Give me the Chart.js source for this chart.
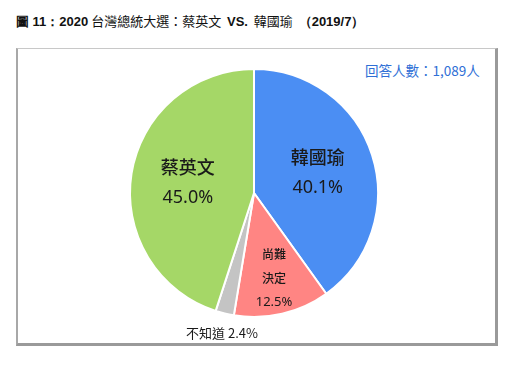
<!DOCTYPE html>
<html>
<head>
<meta charset="utf-8">
<script src="https://cdn.jsdelivr.net/npm/chart.js@4"></script>
<style>
  body { margin: 0; background: #fff; font-family: "Noto Sans CJK TC", sans-serif; }
  #wrap { position: relative; width: 513px; height: 368px; overflow: hidden; }
  #title { position: absolute; left: 16px; top: 11px; font-size: 13px; color: #111; white-space: nowrap; }
  #title b { font-family: Arial, "Liberation Sans", sans-serif; }
  #frame { position: absolute; left: 16px; top: 48px; width: 477px; height: 294px;
           border-top: 1px solid #c8c8c8; border-left: 2px solid #a8a8a8;
           border-right: 3px solid #9a9a9a; border-bottom: 3px solid #9a9a9a; }
  #note { position: absolute; left: 365px; top: 60px; font-size: 13.5px; color: #2f6fd6; white-space: nowrap; }
  #chart { position: absolute; left: 0; top: 0; }
</style>
</head>
<body>
<div id="wrap">
  <div id="title"><b>圖 11：2020</b> 台灣總統大選：蔡英文&nbsp; <b>VS.</b>&nbsp; 韓國瑜&nbsp; <b>（2019/7）</b></div>
  <div id="frame"></div>
  <div id="note">回答人數：1,089人</div>
  <canvas id="chart" width="513" height="368"></canvas>
</div>
<script>
/*----- data -----*/
const labels = ["韓國瑜", "尚難決定", "不知道", "蔡英文"]
const values = [40.1, 12.5, 2.4, 45.0]
const colors = ["#4b8ef3", "#ff8583", "#c4c4c4", "#a5d767"]
const edgeColors = ["#3a78dc", "#f06a68", "#a8a8a8", "#93c855"]

/*----- shading -----*/
function shade(context) {
  const chart = context.chart
  const arc = chart.getDatasetMeta(0).data[context.dataIndex]
  if (!arc || !arc.outerRadius) return colors[context.dataIndex]
  const g = chart.ctx.createRadialGradient(arc.x, arc.y, 0, arc.x, arc.y, arc.outerRadius)
  g.addColorStop(0, colors[context.dataIndex])
  g.addColorStop(0.9, colors[context.dataIndex])
  g.addColorStop(1, edgeColors[context.dataIndex])
  return g
}

/*----- label plugin -----*/
const sliceLabels = {
  id: 'sliceLabels',
  afterDatasetsDraw(chart) {
    const ctx = chart.ctx
    const arcs = chart.getDatasetMeta(0).data
    ctx.save()
    ctx.fillStyle = "#1a1a1a"
    ctx.textAlign = "center"
    ctx.textBaseline = "middle"
    arcs.forEach((arc, i) => {
      const mid = (arc.startAngle + arc.endAngle) / 2
      const pct = values[i].toFixed(1) + "%"
      if (i === 0 || i === 3) {
        const r = arc.outerRadius * 0.54
        const x = arc.x + Math.cos(mid) * r
        const y = arc.y + Math.sin(mid) * r
        ctx.font = '500 18px "Noto Sans CJK TC"'
        ctx.fillText(labels[i], x, y - 15)
        ctx.font = '18px "Noto Sans", sans-serif'
        ctx.fillText(pct, x, y + 15)
      } else if (i === 1) {
        const r = arc.outerRadius * 0.71
        const x = arc.x + Math.cos(mid) * r
        const y = arc.y + Math.sin(mid) * r
        ctx.font = '500 12px "Noto Sans CJK TC"'
        ctx.fillText("尚難", x, y - 24)
        ctx.fillText("決定", x, y)
        ctx.font = '13px "Noto Sans", sans-serif'
        ctx.fillText(pct, x, y + 24)
      } else {
        const x = arc.x - 32
        const y = arc.y + arc.outerRadius + 16
        ctx.font = '13px "Noto Sans CJK TC"'
        ctx.fillText(labels[i] + " " + pct, x, y)
      }
    })
    ctx.restore()
  }
}

new Chart(document.getElementById('chart'), {
  type: 'pie',
  data: {
    labels: labels,
    datasets: [{
      data: values,
      backgroundColor: shade,
      borderColor: "#ffffff",
      borderWidth: 2
    }]
  },
  options: {
    responsive: false,
    animation: false,
    layout: { padding: { left: 129, right: 134, top: 68, bottom: 50 } },
    plugins: {
      legend: { display: false },
      tooltip: { enabled: false }
    }
  },
  plugins: [sliceLabels]
})
</script>
</body>
</html>
